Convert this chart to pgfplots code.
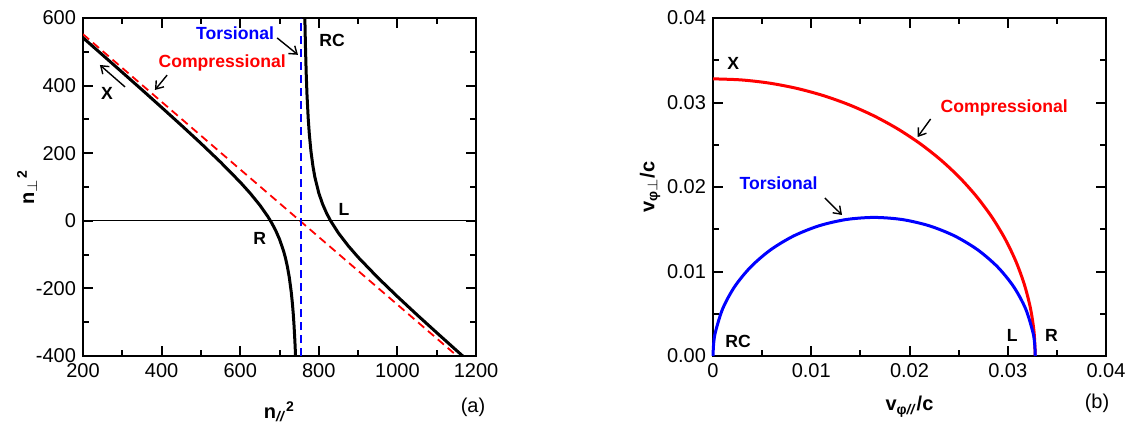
\documentclass[border=0pt]{standalone}
\usepackage{fontspec}
\setmainfont{Liberation Sans}
\usepackage{pgfplots}
\pgfplotsset{compat=1.18}
\usetikzlibrary{arrows.meta}
\tikzset{
 ann/.style={font=\bfseries\fontsize{8.8}{10}\selectfont},
 arr/.style={-{Straight Barb[length=3.5pt,width=5pt]}, line width=0.7pt, black},
}
\begin{document}
\begin{tikzpicture}
\useasboundingbox (0pt,0pt) rectangle (563.5pt,214pt);
\pgfplotsset{
 myaxis/.style={
  scale only axis, width=196.5pt, height=169pt, anchor=south west,
  axis line style={line width=1.3pt},
  every tick/.style={line width=1pt, black},
  major tick length=5pt, minor tick length=3pt,
  tick align=inside,
  minor x tick num=1, minor y tick num=1,
  ticklabel style={font=\fontsize{10}{12}\selectfont},
  /pgf/number format/assume math mode=true,
  /pgf/number format/1000 sep={},
  label style={font=\bfseries\fontsize{10}{12}\selectfont},
  clip=true,
 },
}
% ---------------- (a) ----------------
\begin{axis}[myaxis, at={(41.5pt,36pt)},
  xmin=200, xmax=1200, ymin=-400, ymax=600,
  xtick={200,400,...,1200}, ytick={-400,-200,...,600},
  xlabel={n\textsubscript{\textit{//}}\textsuperscript{2}},
  ylabel={n\textsubscript{$\perp$}\textsuperscript{2}},
  xlabel style={at={(axis description cs:0.5,-0.165)}, anchor=center},
  ylabel style={at={(axis description cs:-0.1425,0.5)}, anchor=center},
]
\addplot[black, line width=0.7pt] coordinates {(200,0) (1200,0)};
\addplot[red, line width=0.9pt, dash pattern=on 4pt off 2.5pt] coordinates {(200,552) (1152,-400)};
\addplot[blue, line width=0.9pt, dash pattern=on 4pt off 2.5pt] coordinates {(755,-400) (755,600)};
\addplot[black, line width=1.5pt, line join=round] coordinates {
 (200,541.5) (250,490.4) (300,439.1) (350,387.6) (400,335.5) (450,282.8)
 (500,229.1) (550,173.5) (600,114.3) (625,82.0) (650,46.3) (670,13.2)
 (680,-6) (690,-28) (700,-54.4) (710,-88) (715,-109.3) (720,-135.1)
 (725,-168) (730,-212) (733,-246.9) (735,-275.5) (737,-310) (739,-352.6)
 (740,-378) (741,-406.9)};
\addplot[black, line width=1.5pt, line join=round] coordinates {
 (764.5,603) (765,572) (766,517.8) (768,434) (770,372) (773,304) (776,254.6)
 (780,206) (785,162) (790,129.1) (800,82) (810,48.4) (820,22) (830,0)
 (850,-36.4) (875,-74.25) (900,-107.7) (950,-168) (1000,-224.1)
 (1050,-278.2) (1100,-331) (1150,-383.2) (1166,-399.8) (1170,-404)};
\node[ann, text=blue] at (axis cs:587,556) {Torsional};
\draw[arr] (axis cs:694,541) -- (axis cs:747,491);
\node[ann] at (axis cs:834,535) {RC};
\node[ann, text=red] at (axis cs:554,467) {Compressional};
\draw[arr] (axis cs:414,431) -- (axis cs:383,387);
\node[ann] at (axis cs:261,378) {X};
\draw[arr] (axis cs:307,396) -- (axis cs:243,461);
\node[ann] at (axis cs:650,-51) {R};
\node[ann] at (axis cs:864,35) {L};
\end{axis}
\node[font=\fontsize{10}{12}\selectfont] at (236.5pt,10.5pt) {(a)};
% ---------------- (b) ----------------
\begin{axis}[myaxis, at={(356.5pt,36pt)},
  xmin=0, xmax=0.04, ymin=0, ymax=0.04,
  xtick={0,0.01,0.02,0.03,0.04}, ytick={0,0.01,0.02,0.03,0.04},
  scaled ticks=false,
  xticklabel style={/pgf/number format/fixed, /pgf/number format/precision=2},
  yticklabel style={/pgf/number format/fixed, /pgf/number format/fixed zerofill, /pgf/number format/precision=2},
  xlabel={v\textsubscript{φ\textit{//}}/c},
  ylabel={v\textsubscript{φ$\perp$}/c},
  xlabel style={at={(axis description cs:0.5,-0.15)}, anchor=center},
  ylabel style={at={(axis description cs:-0.16,0.5)}, anchor=center},
  clip=false,
]
\addplot[red, line width=1.5pt, smooth] coordinates {
 (0,0.0328) (0.002859,0.032675) (0.005696,0.032302) (0.008489,0.031682)
 (0.011218,0.030822) (0.013862,0.029727) (0.0164,0.028406) (0.018813,0.026868)
 (0.021083,0.025126) (0.023193,0.023193) (0.025126,0.021083) (0.026868,0.018813)
 (0.028406,0.0164) (0.029727,0.013862) (0.030822,0.011218) (0.031682,0.008489)
 (0.032302,0.005696) (0.032675,0.002859) (0.0328,0)};
\addplot[blue, line width=1.5pt, smooth] coordinates {
 (0,0) (0.000062,0.001429) (0.000249,0.002848) (0.000989,0.005609) (0.002197,0.0082)
 (0.003837,0.010542) (0.005858,0.012563) (0.0082,0.014203) (0.010791,0.015411)
 (0.013552,0.016151) (0.0164,0.0164) (0.019248,0.016151) (0.022009,0.015411)
 (0.0246,0.014203) (0.026942,0.012563) (0.028963,0.010542) (0.030603,0.0082)
 (0.031811,0.005609) (0.032551,0.002848) (0.032738,0.001429) (0.0328,0)};
\node[ann] at (axis cs:0.00205,0.03467) {X};
\node[ann, text=red] at (axis cs:0.02964,0.02935) {Compressional};
\draw[arr] (axis cs:0.02215,0.02805) -- (axis cs:0.02082,0.02592);
\node[ann, text=blue] at (axis cs:0.00667,0.02047) {Torsional};
\draw[arr] (axis cs:0.01138,0.0187) -- (axis cs:0.01313,0.01669);
\node[ann] at (axis cs:0.00256,0.00178) {RC};
\node[ann] at (axis cs:0.03046,0.00249) {L};
\node[ann] at (axis cs:0.03446,0.00249) {R};
\end{axis}
\node[font=\fontsize{10}{12}\selectfont] at (548.5pt,12.5pt) {(b)};
\end{tikzpicture}
\end{document}
